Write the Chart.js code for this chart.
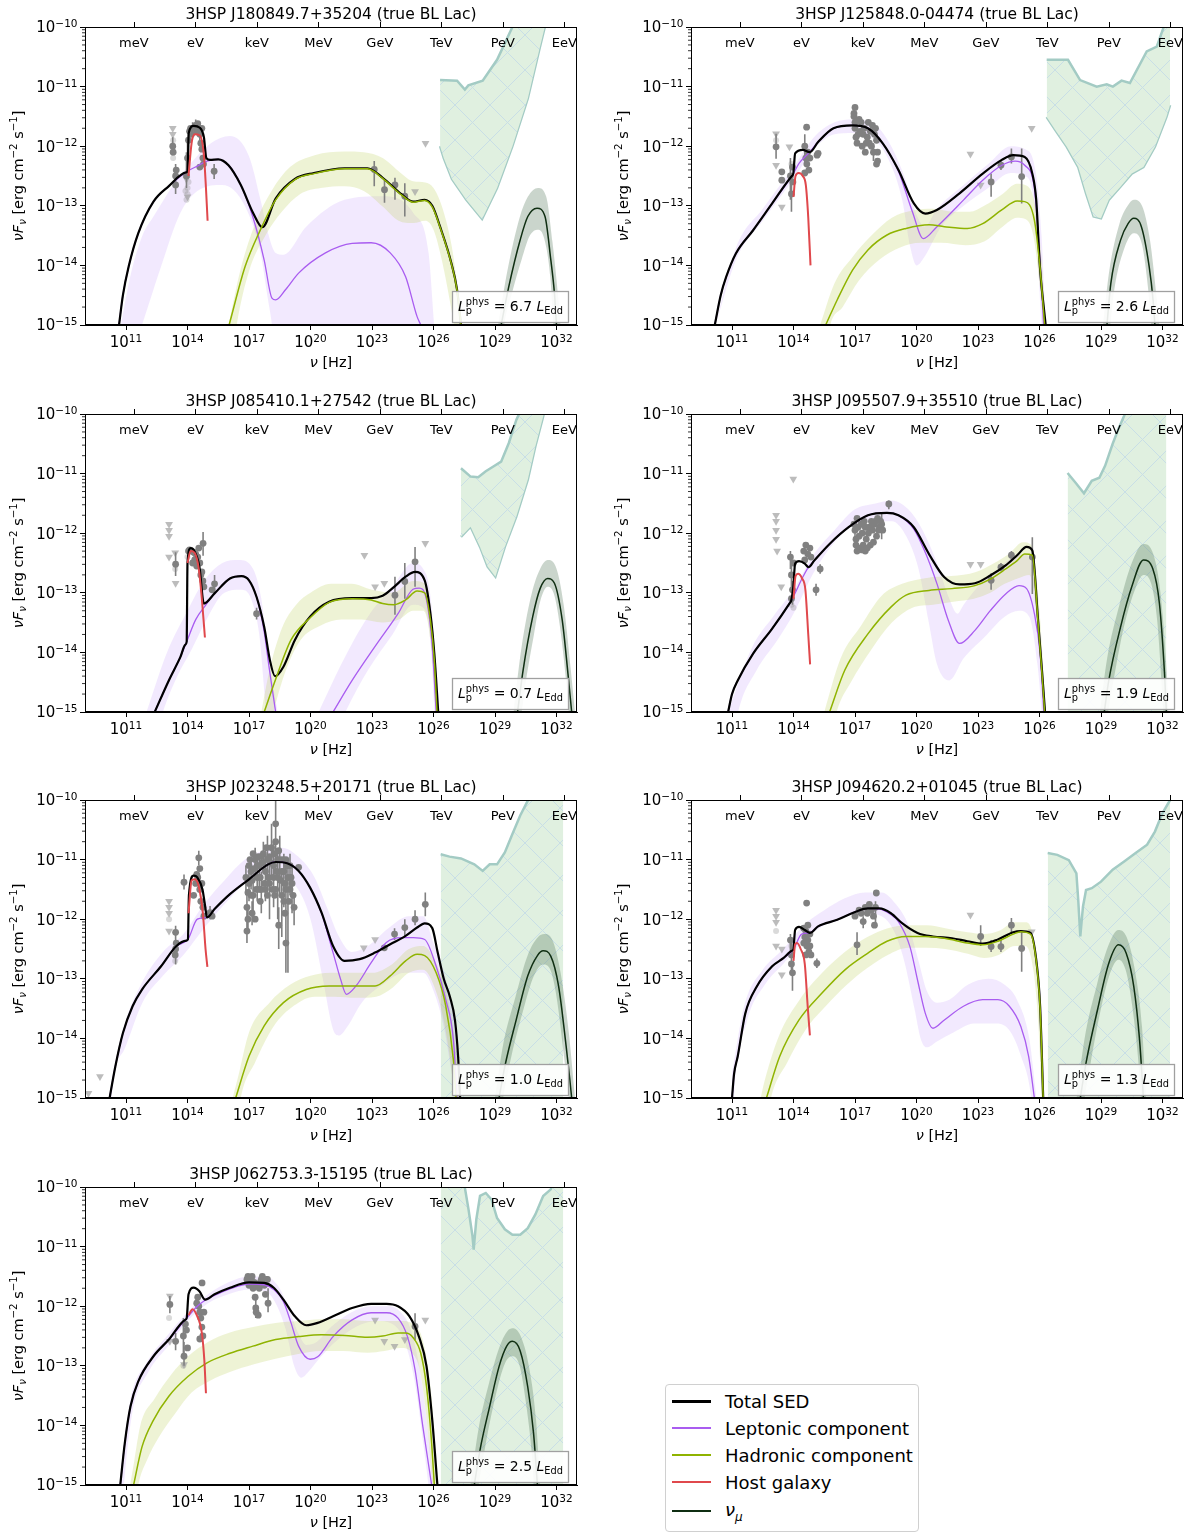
<!DOCTYPE html>
<html>
<head>
<meta charset="utf-8">
<script src="https://cdn.jsdelivr.net/npm/chart.js@4.4.1/dist/chart.umd.min.js"></script>
<style>
body { margin: 0; background: #fff; width: 1200px; height: 1534px; overflow: hidden; position: relative; font-family: "DejaVu Sans", sans-serif; }
canvas { position: absolute; }
.legend { position: absolute; left: 665px; top: 1384px; width: 252px; height: 146px; border: 1px solid #d0d0d0; border-radius: 4px; background: #fff; }
.legend .row { position: absolute; left: 0; height: 26px; display: flex; align-items: center; font-size: 18px; color: #000; white-space: nowrap; }
.legend .swatch { width: 39px; margin-left: 6px; margin-right: 14px; }
</style>
</head>
<body>
<div class="legend" id="legend"></div>
<script>
// all values are log10(nu/Hz), log10(nuFnu / erg cm-2 s-1)
const titles = [
    '3HSP J180849.7+35204 (true BL Lac)', '3HSP J125848.0-04474 (true BL Lac)',
    '3HSP J085410.1+27542 (true BL Lac)', '3HSP J095507.9+35510 (true BL Lac)',
    '3HSP J023248.5+20171 (true BL Lac)', '3HSP J094620.2+01045 (true BL Lac)',
    '3HSP J062753.3-15195 (true BL Lac)'
];
const lpValues = ['6.7', '2.6', '0.7', '1.9', '1.0', '1.3', '2.5'];
const energyLabels = ['meV', 'eV', 'keV', 'MeV', 'GeV', 'TeV', 'PeV', 'EeV'];
const energyExp = [11.383, 14.383, 17.383, 20.383, 23.383, 26.383, 29.383, 32.383];
const xTickExp = [11, 14, 17, 20, 23, 26, 29, 32];
const yTickExp = [-15, -14, -13, -12, -11, -10];
const legendLabels = ['Total SED', 'Leptonic component', 'Hadronic component', 'Host galaxy', '<i>ν</i><sub style="font-size:12px"><i>μ</i></sub>'];

// ---- panel 1
const tot1 = [[10.66,-15],[10.85,-14.5],[11.13,-14.02],[11.6,-13.46],[12.34,-12.93],[13.09,-12.67],[13.93,-12.44],[14.0,-12.42],[14.06,-11.78],[14.3,-11.66],[14.6,-11.69],[14.8,-11.85],[14.92,-12.2],[15.1,-12.23],[15.5,-12.22],[16.0,-12.32],[16.6,-12.65],[17.2,-13.12],[17.65,-13.36],[18.3,-12.88],[19.24,-12.55],[20.17,-12.45],[21.66,-12.37],[22.78,-12.37],[23.52,-12.53],[24.45,-12.81],[25.01,-12.93],[25.57,-12.9],[25.94,-13.0],[26.32,-13.35],[26.87,-13.96],[27.15,-14.41],[27.34,-15]];
const lep1 = [[10.66,-15],[10.85,-14.5],[11.13,-14.02],[11.6,-13.46],[12.34,-12.93],[13.09,-12.67],[14.0,-12.42],[14.5,-12.33],[14.95,-12.25],[15.5,-12.22],[16.0,-12.32],[16.6,-12.65],[17.2,-13.2],[17.74,-13.91],[18.12,-14.55],[18.3,-14.58],[18.8,-14.4],[19.42,-14.13],[20.73,-13.79],[22.03,-13.63],[22.96,-13.62],[23.89,-13.79],[24.64,-14.19],[25.2,-14.86],[25.38,-15]];
const lepUp1 = [[10.75,-15],[11.2,-14.2],[11.8,-13.5],[12.34,-13.18],[13.27,-12.67],[14.02,-12.34],[15.14,-11.95],[16.07,-11.83],[17.0,-12.17],[17.56,-12.9],[17.93,-13.46],[18.3,-13.79],[18.68,-13.82],[19.79,-13.35],[21.66,-12.9],[23.52,-12.84],[25.01,-13.12],[25.76,-13.79],[26.04,-15]];
const lepLo1 = [[10.75,-16],[11.78,-15],[12.71,-14.02],[13.65,-13.12],[14.58,-12.73],[15.7,-12.65],[16.81,-13.01],[17.56,-13.79],[17.93,-14.58],[18.12,-15],[18.4,-16],[26.04,-16]];
const had1 = [[16.03,-15],[16.81,-14.02],[17.56,-13.4],[18.3,-12.9],[19.24,-12.56],[20.17,-12.46],[21.66,-12.38],[22.78,-12.38],[23.52,-12.54],[24.45,-12.82],[25.01,-12.94],[25.57,-12.91],[25.94,-13.02],[26.32,-13.36],[26.87,-13.97],[27.15,-14.42],[27.34,-15]];
const hadUp1 = [[16.0,-15],[16.6,-14.05],[17.3,-13.3],[18.1,-12.75],[19.0,-12.35],[20.2,-12.15],[21.66,-12.09],[22.6,-12.1],[23.52,-12.2],[24.4,-12.45],[25.0,-12.59],[25.6,-12.61],[26.0,-12.7],[26.4,-13.0],[26.9,-13.7],[27.25,-14.58],[27.4,-15]];
const hadLo1 = [[16.0,-16],[16.4,-15],[17.0,-14.1],[17.8,-13.5],[18.6,-13.1],[19.5,-12.8],[20.5,-12.7],[21.66,-12.67],[22.6,-12.75],[23.52,-13.01],[24.3,-13.25],[25.0,-13.29],[25.6,-13.25],[26.0,-13.4],[26.4,-13.9],[26.8,-14.6],[27.0,-15],[27.4,-16]];
const host1 = [[14.05,-12.5],[14.2,-11.95],[14.35,-11.8],[14.6,-11.82],[14.8,-12.15],[14.9,-12.7],[14.98,-13.25]];
const nu1 = [[29.3,-15],[29.67,-14.36],[30.23,-13.57],[30.6,-13.18],[31.05,-13.04],[31.44,-13.18],[31.72,-13.9],[31.9,-14.47],[32.0,-15]];
const nuUp1 = [[29.15,-15],[29.6,-14.1],[30.2,-13.2],[30.6,-12.85],[31.1,-12.7],[31.5,-12.85],[31.8,-13.6],[32.1,-14.6],[32.2,-15]];
const nuLo1 = [[29.15,-16],[29.45,-15],[29.8,-14.5],[30.3,-13.9],[30.7,-13.5],[31.1,-13.4],[31.4,-13.55],[31.7,-14.2],[31.85,-15],[32.2,-16]];
const senUp1 = [[26.32,-10.89],[27.15,-10.9],[27.53,-11.05],[27.7,-10.98],[28.4,-10.9],[29.1,-10.55],[29.85,-10.0],[30.6,-9.5],[31.8,-9.0]];
const senLo1 = [[26.32,-12.0],[26.5,-12.2],[26.9,-12.55],[27.6,-12.9],[28.37,-13.22],[29.1,-12.7],[29.85,-12.0],[30.6,-11.2],[31.16,-10.38],[31.5,-9.9],[31.8,-9.5]];
const pts1 = [[13.28,-12.0,-12.15,-11.85],[13.3,-12.1],[13.42,-12.5,-12.72,-12.3],[13.42,-12.65,-12.8,-12.5],[13.45,-12.4],[13.95,-12.5,-12.7,-12.1],[14.0,-12.2,-12.5,-11.9],[14.05,-11.9,-12.2,-11.7],[14.1,-11.75],[14.15,-11.7],[14.2,-11.8],[14.25,-11.7,-11.85,-11.6],[14.4,-11.65,-11.75,-11.55],[14.5,-11.62],[14.55,-11.7],[14.6,-11.8,-11.9,-11.7],[14.65,-11.95],[14.7,-12.05],[14.75,-12.2],[14.78,-12.3],[14.6,-12.35],[14.45,-11.75],[14.7,-11.7],[15.3,-12.42,-12.55,-12.3],[23.11,-12.39,-12.67,-12.25],[23.61,-12.73,-12.95,-12.56],[24.12,-12.65,-12.9,-12.53],[24.6,-12.84,-13.18,-12.62]];
const faint1 = [[14.0,-12.7],[14.0,-12.8],[13.95,-12.9],[14.05,-12.6],[13.9,-12.75],[13.3,-11.9],[13.3,-12.2]];
const ul1 = [[13.28,-11.7],[13.28,-11.8],[13.95,-12.55],[14.0,-12.85],[25.61,-11.95],[25.1,-12.76]];

// ---- panel 2
const tot2 = [[10.16,-15],[10.45,-14.5],[10.72,-14.19],[11.19,-13.8],[12.03,-13.41],[12.96,-12.96],[13.92,-12.5],[13.99,-12.46],[14.08,-12.12],[14.45,-12.06],[14.79,-12.1],[15.2,-11.93],[15.95,-11.7],[16.88,-11.65],[17.63,-11.7],[18.37,-11.96],[19.12,-12.4],[19.87,-12.96],[20.43,-13.13],[20.99,-13.07],[22.1,-12.79],[23.23,-12.46],[24.16,-12.23],[24.72,-12.15],[25.28,-12.18],[25.65,-12.46],[25.84,-12.9],[26.02,-14.02],[26.3,-15]];
const lep2 = [[10.16,-15],[10.45,-14.5],[10.72,-14.19],[11.19,-13.8],[12.03,-13.41],[12.96,-12.96],[13.99,-12.46],[14.27,-12.29],[14.79,-12.1],[15.2,-11.93],[15.95,-11.7],[16.88,-11.65],[17.63,-11.7],[18.37,-11.96],[19.12,-12.42],[19.8,-13.1],[20.33,-13.55],[21.0,-13.35],[22.3,-12.9],[23.23,-12.57],[24.16,-12.32],[24.81,-12.25],[25.28,-12.32],[25.75,-12.7],[26.0,-13.8],[26.2,-15]];
const lepUp2 = [[10.2,-15],[11.2,-13.7],[12.5,-13.05],[14.0,-12.35],[15.0,-11.85],[16.0,-11.6],[16.9,-11.55],[17.8,-11.6],[18.6,-11.9],[19.4,-12.5],[20.0,-13.15],[20.4,-13.35],[21.0,-13.05],[22.3,-12.65],[23.5,-12.3],[24.6,-12.0],[25.3,-12.05],[25.8,-12.4],[26.1,-13.5],[26.3,-15]];
const lepLo2 = [[10.2,-15],[11.2,-13.9],[12.5,-13.25],[14.0,-12.55],[15.0,-12.05],[16.0,-11.8],[16.9,-11.78],[17.8,-11.85],[18.6,-12.2],[19.3,-12.9],[19.7,-13.7],[20.0,-14.0],[20.4,-13.85],[21.2,-13.35],[22.3,-13.0],[23.5,-12.7],[24.6,-12.45],[25.3,-12.5],[25.75,-13.0],[26.1,-15],[26.3,-16]];
const had2 = [[15.57,-15],[16.13,-14.58],[16.88,-14.08],[17.63,-13.74],[18.56,-13.49],[19.49,-13.38],[20.61,-13.32],[21.36,-13.35],[22.48,-13.38],[23.23,-13.3],[24.16,-13.07],[24.91,-12.92],[25.28,-12.93],[25.75,-13.24],[26.02,-14.02],[26.25,-15]];
const hadUp2 = [[15.3,-15],[16.0,-14.3],[16.9,-13.85],[17.8,-13.5],[18.8,-13.2],[19.8,-13.08],[20.8,-13.05],[21.8,-13.1],[22.6,-13.1],[23.3,-13.0],[24.2,-12.8],[24.9,-12.63],[25.3,-12.65],[25.8,-13.0],[26.1,-13.9],[26.3,-15]];
const hadLo2 = [[15.3,-16],[15.8,-15],[16.4,-14.7],[17.2,-14.25],[18.2,-13.9],[19.2,-13.7],[20.2,-13.62],[21.2,-13.62],[22.4,-13.66],[23.3,-13.6],[24.2,-13.35],[24.9,-13.2],[25.3,-13.22],[25.7,-13.5],[26.0,-14.3],[26.2,-15],[26.3,-16]];
const host2 = [[14.0,-12.85],[14.1,-12.5],[14.25,-12.45],[14.45,-12.5],[14.6,-12.65],[14.72,-13.2],[14.83,-14.0]];
const nu2 = [[29.29,-15],[29.48,-14.3],[29.95,-13.58],[30.32,-13.3],[30.6,-13.21],[30.97,-13.35],[31.35,-14.02],[31.54,-14.58],[31.63,-15]];
const nuUp2 = [[29.1,-15],[29.4,-14.1],[29.9,-13.3],[30.3,-13.0],[30.6,-12.9],[31.0,-13.0],[31.4,-13.6],[31.7,-14.5],[31.85,-15]];
const nuLo2 = [[29.1,-16],[29.45,-15],[29.65,-14.4],[30.1,-13.75],[30.6,-13.46],[31.0,-13.65],[31.3,-14.4],[31.45,-15],[31.85,-16]];
const senUp2 = [[26.35,-10.55],[27.39,-10.55],[27.98,-10.89],[28.79,-11.0],[29.28,-10.96],[29.58,-11.0],[30.0,-10.9],[30.41,-10.94],[31.23,-10.41],[31.72,-10.33],[32.04,-10.02],[32.37,-9.6]];
const senLo2 = [[26.35,-11.51],[26.77,-11.73],[27.33,-12.01],[27.89,-12.35],[28.27,-12.79],[28.64,-13.18],[29.0,-13.21],[29.38,-12.9],[29.95,-12.68],[30.5,-12.46],[31.07,-12.35],[31.63,-12.01],[32.19,-11.51],[32.37,-11.31]];
const pts2 = [[13.15,-12.01,-12.21,-11.79],[13.43,-12.43],[13.43,-12.57],[13.85,-12.5,-12.9,-12.2],[13.9,-12.8,-13.1,-12.5],[13.95,-12.35],[13.97,-12.6],[14.64,-11.68],[14.55,-12.0,-12.3,-11.8],[14.6,-12.2],[14.65,-12.3],[14.7,-12.1],[14.75,-12.4],[14.55,-12.45],[14.8,-12.2],[15.2,-12.12],[15.15,-12.15],[16.95,-11.5,-11.65,-11.4],[17.0,-11.7],[17.05,-11.85],[17.1,-11.95],[17.2,-11.55],[17.3,-11.6],[17.4,-11.8],[17.45,-11.7],[17.55,-11.95],[17.65,-11.6],[17.75,-11.75],[17.8,-12.0],[17.9,-12.1,-12.25,-11.95],[18.0,-11.7],[18.05,-11.9],[18.1,-12.25],[17.25,-11.75],[17.0,-11.6],[16.95,-11.45],[17.0,-11.35],[17.15,-11.8],[17.35,-12.0],[17.5,-12.1],[17.6,-11.85],[17.7,-11.95],[17.85,-11.65],[17.95,-11.8],[18.1,-12.1],[18.05,-12.3],[23.64,-12.6,-12.85,-12.46],[24.12,-12.32,-12.4,-12.24],[24.63,-12.18,-12.29,-12.04],[25.13,-12.51,-12.96,-12.04]];
const faint2 = [[13.15,-11.9],[13.9,-12.3]];
const ul2 = [[13.15,-11.79],[13.8,-12.01],[13.15,-12.32],[13.43,-13.02],[22.63,-12.13],[23.13,-12.65],[25.62,-11.7]];

// ---- panel 3
const tot3 = [[12.4,-15],[13.09,-14.47],[13.65,-14.08],[13.9,-13.87],[13.96,-13.82],[14.0,-12.5],[14.15,-12.25],[14.3,-12.28],[14.58,-12.56],[14.8,-13.18],[15.32,-13.01],[16.07,-12.76],[16.63,-12.72],[17.0,-12.79],[17.37,-13.07],[17.74,-13.57],[18.02,-14.13],[18.27,-14.4],[18.68,-14.24],[19.24,-13.79],[19.98,-13.4],[20.91,-13.15],[22.03,-13.09],[22.96,-13.09],[23.52,-13.05],[24.08,-12.9],[24.64,-12.73],[25.1,-12.65],[25.57,-12.79],[25.85,-13.35],[26.04,-14.02],[26.23,-15]];
const lep3 = [[12.4,-15],[13.09,-14.47],[13.65,-14.08],[13.96,-13.82],[14.4,-13.45],[14.86,-13.22],[15.32,-13.01],[16.07,-12.76],[16.63,-12.72],[17.0,-12.79],[17.37,-13.07],[17.74,-13.65],[18.0,-14.3],[18.3,-15],null,[21.1,-15],[22.03,-14.47],[23.15,-13.9],[24.27,-13.35],[25.0,-12.94],[25.3,-12.92],[25.66,-13.12],[25.94,-13.9],[26.13,-15]];
const lepUp3 = [[12.0,-15],[13.0,-14.0],[14.0,-13.3],[14.8,-12.8],[15.7,-12.5],[16.5,-12.45],[17.2,-12.6],[17.6,-13.1],[18.0,-14.2],[18.4,-15]];
const lepLo3 = [[12.0,-16],[12.8,-15],[13.5,-14.4],[14.2,-13.95],[15.0,-13.4],[15.8,-13.0],[16.6,-12.95],[17.1,-13.1],[17.5,-13.7],[17.85,-15],[18.4,-16]];
const lepUp3b = [[20.4,-15],[21.5,-14.2],[22.8,-13.4],[24.0,-12.9],[25.0,-12.5],[25.5,-12.6],[25.9,-13.2],[26.2,-15]];
const lepLo3b = [[20.4,-16],[21.7,-15],[22.8,-14.3],[24.0,-13.7],[25.0,-13.2],[25.5,-13.25],[25.85,-13.8],[26.05,-15],[26.2,-16]];
const had3 = [[17.74,-15],[18.3,-14.45],[19.05,-13.79],[19.98,-13.42],[20.91,-13.16],[22.03,-13.1],[22.96,-13.12],[23.52,-13.18],[24.08,-13.2],[24.64,-13.12],[25.2,-12.97],[25.57,-13.0],[25.85,-13.46],[26.04,-14.13],[26.17,-15]];
const hadUp3 = [[17.6,-15],[18.0,-14.3],[18.6,-13.6],[19.3,-13.2],[20.0,-13.0],[21.0,-12.85],[22.0,-12.85],[23.0,-12.95],[24.0,-13.0],[25.0,-12.8],[25.6,-12.85],[25.95,-13.5],[26.2,-15]];
const hadLo3 = [[17.6,-16],[18.2,-15],[18.8,-14.3],[19.5,-13.8],[20.5,-13.55],[21.5,-13.45],[22.5,-13.45],[23.5,-13.5],[24.3,-13.45],[25.0,-13.3],[25.5,-13.3],[25.85,-13.8],[26.1,-15],[26.2,-16]];
const host3 = [[14.0,-12.5],[14.15,-12.3],[14.35,-12.33],[14.55,-12.6],[14.7,-13.1],[14.85,-13.75]];
const nu3 = [[30.1,-15],[30.37,-14.3],[30.84,-13.4],[31.2,-12.93],[31.57,-12.76],[31.9,-12.84],[32.28,-13.46],[32.56,-14.36],[32.74,-15]];
const nuUp3 = [[29.9,-15],[30.3,-13.9],[30.8,-13.0],[31.2,-12.6],[31.57,-12.45],[31.95,-12.55],[32.35,-13.2],[32.7,-14.3],[32.9,-15]];
const nuLo3 = [[29.9,-16],[30.3,-15],[30.5,-14.5],[30.9,-13.7],[31.2,-13.15],[31.57,-12.9],[31.9,-13.05],[32.2,-13.65],[32.5,-14.6],[32.6,-15],[32.9,-16]];
const senUp3 = [[27.34,-10.91],[27.81,-11.05],[28.18,-11.06],[28.55,-10.96],[28.92,-10.88],[29.3,-10.8],[29.67,-10.49],[30.04,-10.1],[30.3,-9.9],[31.5,-9.3]];
const senLo3 = [[27.34,-12.06],[27.81,-11.89],[28.27,-12.23],[28.64,-12.56],[29.02,-12.73],[29.48,-12.23],[30.04,-11.72],[30.6,-11.1],[30.97,-10.54],[31.35,-10.04],[31.5,-9.8]];
const pts3 = [[13.42,-12.52,-12.72,-12.32],[14.05,-12.3],[14.1,-12.28],[14.2,-12.3],[14.3,-12.32],[14.4,-12.35],[14.5,-12.4],[14.6,-12.5],[14.7,-12.65],[14.75,-12.8],[14.8,-12.9],[14.55,-12.25],[14.45,-12.55],[14.65,-12.7],[14.35,-12.45],[14.25,-12.5],[14.76,-12.17,-12.38,-11.98],[15.32,-12.85,-13.0,-12.7],[15.2,-12.95],[17.37,-13.35,-13.45,-13.25],[24.12,-13.04,-13.37,-12.73],[24.6,-12.81,-13.1,-12.5],[25.1,-12.48,-12.9,-12.23]];
const faint3 = [[13.4,-12.6],[14.0,-12.4]];
const ul3 = [[13.1,-11.85],[13.1,-11.95],[13.1,-12.05],[13.1,-12.4],[13.42,-12.84],[13.4,-12.33],[22.63,-12.37],[23.15,-12.9],[23.6,-12.84],[25.6,-12.17]];

// ---- panel 4
const tot4 = [[10.81,-15],[11.0,-14.7],[11.28,-14.47],[12.03,-14.02],[12.96,-13.6],[13.8,-13.18],[13.89,-13.13],[13.99,-12.9],[14.08,-12.51],[14.27,-12.47],[14.55,-12.51],[14.73,-12.57],[15.01,-12.46],[15.76,-12.18],[16.69,-11.9],[17.63,-11.7],[18.56,-11.66],[19.12,-11.7],[19.87,-11.9],[20.61,-12.35],[21.36,-12.74],[22.1,-12.86],[22.85,-12.84],[23.6,-12.71],[24.35,-12.54],[24.91,-12.37],[25.37,-12.23],[25.65,-12.29],[25.93,-13.46],[26.12,-14.3],[26.27,-15]];
const lep4 = [[10.81,-15],[11.0,-14.7],[11.28,-14.47],[12.03,-14.02],[12.96,-13.6],[13.89,-13.13],[14.45,-12.74],[14.73,-12.57],[15.01,-12.46],[15.76,-12.18],[16.69,-11.9],[17.63,-11.7],[18.56,-11.66],[19.12,-11.7],[19.87,-11.93],[20.4,-12.3],[21.0,-12.85],[21.55,-13.46],[22.1,-13.85],[22.85,-13.63],[23.6,-13.3],[24.35,-13.02],[25.0,-12.88],[25.37,-12.93],[25.75,-13.35],[26.03,-14.02],[26.21,-15]];
const lepUp4 = [[10.8,-15],[12.0,-13.9],[13.0,-13.4],[14.0,-12.95],[15.0,-12.35],[16.0,-11.95],[17.0,-11.6],[18.0,-11.5],[18.8,-11.45],[19.6,-11.6],[20.3,-11.95],[21.0,-12.5],[21.6,-13.1],[22.0,-13.35],[22.3,-13.2],[23.0,-12.9],[23.8,-12.65],[24.5,-12.45],[25.2,-12.35],[25.6,-12.5],[26.0,-13.5],[26.25,-15]];
const lepLo4 = [[10.8,-16],[11.3,-15],[12.2,-14.3],[13.2,-13.8],[14.0,-13.35],[15.0,-12.65],[16.0,-12.15],[17.0,-11.85],[18.0,-11.8],[18.8,-11.8],[19.5,-12.05],[20.1,-12.6],[20.6,-13.5],[21.0,-14.2],[21.6,-14.47],[22.3,-14.1],[23.3,-13.75],[24.3,-13.4],[25.0,-13.3],[25.5,-13.4],[25.9,-14.2],[26.1,-15],[26.25,-16]];
const had4 = [[15.76,-15],[16.5,-14.3],[17.63,-13.69],[18.75,-13.24],[19.49,-13.04],[20.61,-12.96],[21.73,-12.93],[22.85,-12.88],[23.6,-12.77],[24.35,-12.6],[24.91,-12.46],[25.28,-12.35],[25.65,-12.37],[25.93,-13.5],[26.12,-14.35],[26.25,-15]];
const hadUp4 = [[15.5,-15],[16.3,-14.1],[17.3,-13.55],[18.3,-13.05],[19.3,-12.85],[20.5,-12.75],[21.7,-12.72],[22.9,-12.65],[23.8,-12.5],[24.5,-12.35],[25.2,-12.15],[25.6,-12.2],[26.0,-13.3],[26.3,-15]];
const hadLo4 = [[15.5,-16],[16.1,-15],[16.8,-14.5],[17.8,-13.95],[18.8,-13.5],[19.8,-13.25],[20.8,-13.2],[21.8,-13.15],[22.8,-13.1],[23.6,-13.0],[24.3,-12.85],[25.0,-12.75],[25.5,-12.7],[25.9,-13.5],[26.2,-15],[26.3,-16]];
const host4 = [[14.0,-13.1],[14.1,-12.72],[14.22,-12.68],[14.42,-12.76],[14.58,-12.95],[14.72,-13.7],[14.81,-14.2]];
const nu4 = [[29.16,-15],[29.38,-14.47],[29.95,-13.58],[30.5,-12.9],[31.07,-12.45],[31.53,-12.6],[31.85,-13.18],[32.1,-14.36],[32.19,-15]];
const nuUp4 = [[28.95,-15],[29.3,-14.1],[29.9,-13.2],[30.5,-12.5],[31.07,-12.18],[31.55,-12.35],[31.9,-13.0],[32.2,-14.3],[32.3,-15]];
const nuLo4 = [[28.95,-16],[29.35,-15],[29.7,-14.3],[30.1,-13.6],[30.6,-13.0],[31.07,-12.7],[31.45,-12.85],[31.75,-13.5],[32.05,-15],[32.3,-16]];
const senUp4 = [[27.37,-10.99],[27.8,-11.17],[28.17,-11.33],[28.55,-11.12],[28.92,-11.07],[29.2,-10.87],[29.57,-10.5],[29.85,-10.25],[30.13,-10.03],[30.5,-9.7],[32.19,-9.5]];
const senLo4 = [[27.37,-16],[32.19,-16]];
const pts4 = [[13.85,-12.4,-12.6,-12.3],[13.9,-12.7,-13.0,-12.4],[13.95,-12.95,-13.2,-12.8],[14.0,-12.5],[13.9,-13.1],[14.5,-12.3],[14.6,-12.2],[14.7,-12.35],[14.8,-12.25],[14.55,-12.45],[14.85,-12.4],[15.3,-12.6,-12.68,-12.52],[15.1,-12.95,-13.05,-12.85],[17.0,-11.95,-12.1,-11.8],[17.1,-11.75],[17.2,-12.05],[17.3,-11.85],[17.4,-12.2],[17.5,-11.9],[17.6,-12.25],[17.7,-11.9],[17.8,-11.8],[17.9,-12.15],[18.0,-11.8],[18.1,-11.75],[18.2,-11.9],[18.3,-11.85,-12.1,-11.65],[18.65,-11.51,-11.6,-11.45],[17.05,-12.2],[17.35,-12.28],[17.55,-12.1],[16.95,-11.85],[17.05,-12.1],[17.15,-11.9],[17.25,-12.25],[17.35,-12.0],[17.45,-11.8],[17.65,-12.0],[17.75,-12.2],[17.85,-11.95],[17.95,-11.85],[18.05,-12.05],[18.15,-11.95],[18.25,-11.8],[18.35,-11.95],[17.1,-12.3],[17.5,-12.3],[23.64,-12.79,-12.95,-12.67],[24.12,-12.57,-12.64,-12.5],[24.63,-12.37,-12.45,-12.3],[25.65,-12.4,-13.02,-12.07]];
const faint4 = [[13.9,-13.2],[14.0,-13.25]];
const ul4 = [[13.15,-11.7],[13.15,-11.8],[13.15,-11.95],[13.15,-12.1],[13.2,-12.3],[13.4,-12.9],[13.99,-11.09],[22.63,-12.52],[23.13,-12.52]];

// ---- panel 5
const tot5 = [[10.2,-15],[10.48,-14.47],[10.85,-13.91],[11.32,-13.46],[11.78,-13.18],[12.71,-12.79],[13.46,-12.45],[13.95,-12.36],[14.02,-12.34],[14.07,-11.6],[14.3,-11.27],[14.48,-11.3],[14.73,-11.5],[14.86,-11.78],[14.95,-11.97],[15.32,-11.83],[16.07,-11.58],[17.0,-11.33],[17.93,-11.08],[18.3,-11.04],[18.86,-11.06],[19.42,-11.19],[19.98,-11.47],[20.54,-11.89],[21.1,-12.45],[21.66,-12.7],[22.4,-12.67],[23.15,-12.56],[23.89,-12.42],[24.64,-12.28],[25.2,-12.14],[25.57,-12.07],[25.94,-12.15],[26.2,-12.55],[26.5,-13.0],[26.8,-13.3],[27.05,-13.7],[27.2,-14.3],[27.3,-15]];
const lep5 = [[10.2,-15],[10.48,-14.47],[10.85,-13.91],[11.32,-13.46],[11.78,-13.18],[12.71,-12.79],[13.46,-12.45],[14.02,-12.34],[14.48,-12.0],[14.95,-11.97],[15.32,-11.83],[16.07,-11.58],[17.0,-11.33],[17.93,-11.08],[18.3,-11.04],[18.86,-11.06],[19.42,-11.19],[19.98,-11.47],[20.54,-11.9],[21.1,-12.56],[21.47,-13.01],[21.75,-13.26],[22.22,-13.12],[22.96,-12.73],[23.7,-12.39],[24.45,-12.31],[25.01,-12.31],[25.57,-12.34],[26.13,-12.79],[26.6,-13.35],[26.97,-14.02],[27.15,-15]];
const lepUp5 = [[10.2,-14.9],[10.9,-13.8],[11.8,-13.05],[12.8,-12.55],[13.8,-12.25],[14.8,-11.75],[15.8,-11.35],[16.8,-11.0],[17.7,-10.85],[18.6,-10.8],[19.4,-10.95],[20.2,-11.3],[20.8,-11.8],[21.4,-12.3],[22.0,-12.55],[22.8,-12.45],[23.8,-12.15],[24.8,-11.95],[25.5,-11.95],[26.0,-12.4],[26.6,-13.0],[27.1,-14.0],[27.3,-15]];
const lepLo5 = [[10.2,-16],[10.3,-15],[10.9,-14.2],[11.8,-13.4],[12.8,-12.95],[13.8,-12.6],[14.8,-12.15],[15.8,-11.75],[16.8,-11.4],[17.7,-11.25],[18.6,-11.3],[19.4,-11.5],[20.0,-12.0],[20.6,-13.0],[21.1,-13.85],[21.4,-13.95],[21.8,-13.8],[22.5,-13.4],[23.5,-13.1],[24.6,-12.9],[25.5,-12.9],[26.0,-13.2],[26.5,-13.8],[26.9,-14.6],[27.1,-15],[27.3,-16]];
const had5 = [[16.35,-15],[17.0,-14.3],[17.74,-13.79],[18.68,-13.4],[19.79,-13.18],[20.91,-13.12],[22.03,-13.12],[23.15,-13.12],[23.89,-12.95],[24.64,-12.7],[25.2,-12.59],[25.57,-12.61],[26.13,-12.9],[26.6,-13.46],[26.97,-14.36],[27.1,-15]];
const hadUp5 = [[16.2,-15],[16.5,-14.6],[17.0,-13.9],[18.0,-13.4],[19.0,-13.1],[20.0,-12.95],[21.0,-12.9],[22.0,-12.9],[23.0,-12.9],[24.0,-12.75],[24.8,-12.5],[25.5,-12.45],[26.0,-12.65],[26.6,-13.2],[27.1,-14.2],[27.3,-15]];
const hadLo5 = [[16.2,-16],[16.6,-15],[17.3,-14.4],[18.2,-13.8],[19.2,-13.45],[20.2,-13.3],[21.2,-13.3],[22.2,-13.32],[23.2,-13.3],[24.0,-13.15],[24.8,-12.9],[25.5,-12.85],[26.0,-13.1],[26.5,-13.7],[26.9,-14.6],[27.0,-15],[27.3,-16]];
const host5 = [[14.05,-11.9],[14.2,-11.35],[14.35,-11.33],[14.55,-11.45],[14.75,-11.9],[14.88,-12.5],[14.97,-12.8]];
const nu5 = [[29.2,-15],[29.48,-14.47],[30.04,-13.68],[30.6,-12.95],[31.07,-12.61],[31.35,-12.53],[31.72,-12.62],[32.1,-13.12],[32.47,-14.13],[32.65,-14.69],[32.74,-15]];
const nuUp5 = [[29.0,-15],[29.4,-14.1],[30.0,-13.3],[30.6,-12.6],[31.1,-12.3],[31.4,-12.25],[31.8,-12.35],[32.2,-12.9],[32.6,-13.9],[32.9,-15]];
const nuLo5 = [[29.0,-16],[29.4,-15],[29.8,-14.3],[30.4,-13.5],[30.9,-12.95],[31.35,-12.76],[31.7,-12.85],[32.0,-13.3],[32.4,-14.4],[32.6,-15],[32.9,-16]];
const senUp5 = [[26.35,-10.91],[26.78,-10.95],[27.34,-10.98],[27.99,-11.08],[28.4,-11.19],[28.74,-11.08],[29.1,-11.08],[29.48,-10.88],[29.85,-10.57],[30.23,-10.26],[30.6,-10.01],[31.0,-9.7],[32.33,-9.5]];
const senLo5 = [[26.35,-16],[32.33,-16]];
const pts5 = [[13.42,-12.22,-12.76,-12.11],[13.42,-12.5],[13.4,-12.6],[13.45,-12.4],[13.83,-11.38,-11.5,-11.25],[14.3,-11.6],[14.4,-11.4],[14.5,-11.3],[14.55,-10.97,-11.1,-10.85],[14.6,-11.5],[14.65,-11.7],[14.7,-11.4],[14.75,-11.8],[14.8,-11.95],[14.45,-11.25],[14.6,-11.15],[15.1,-11.89,-12.0,-11.78],[15.2,-11.95],[16.9,-11.8,-12.1,-11.5],[17.0,-11.4,-11.7,-11.2],[17.1,-11.2,-11.5,-11.0],[17.2,-11.6,-12.0,-11.3],[17.3,-11.0,-11.3,-10.8],[17.4,-11.3,-11.7,-11.0],[17.5,-11.1,-11.5,-10.9],[17.6,-11.5,-11.9,-11.2],[17.7,-10.9,-11.2,-10.7],[17.8,-11.2,-11.7,-10.9],[17.9,-11.0,-11.5,-10.6],[18.0,-11.4,-12.0,-11.0],[18.1,-10.8,-11.3,-10.4],[18.2,-11.1,-11.8,-10.7],[18.3,-10.7,-11.2,-10.0],[18.4,-11.3,-12.0,-10.9],[18.5,-11.0,-11.6,-10.6],[18.6,-11.6,-12.3,-11.2],[18.7,-11.2,-11.8,-10.9],[18.8,-11.5,-12.2,-11.1],[18.9,-11.3,-12.9,-11.0],[19.0,-11.1,-11.6,-10.9],[19.1,-11.4,-11.9,-11.1],[16.95,-12.0,-12.2,-11.8],[17.15,-11.9,-12.1,-11.7],[17.55,-11.7],[18.25,-11.6],[18.75,-11.9],[19.42,-11.13],[16.85,-11.3,-11.6,-11.1],[16.95,-11.55],[17.05,-11.0],[17.15,-11.35],[17.25,-11.15],[17.35,-11.5],[17.45,-10.95],[17.55,-11.3],[17.65,-11.05],[17.75,-11.4],[17.85,-10.8],[17.95,-11.3],[18.05,-11.05],[18.15,-11.5],[18.25,-10.9],[18.35,-11.2],[18.45,-10.85],[18.55,-11.35],[18.65,-11.0],[18.75,-11.4],[18.85,-11.1],[18.95,-11.7],[19.05,-11.3],[19.15,-11.6],[16.9,-12.2,-12.4,-12.0],[17.3,-12.0],[18.45,-12.1,-12.5,-11.8],[18.8,-12.4,-12.9,-12.0],[19.2,-11.8,-12.1,-11.6],[18.3,-10.4,-10.6,-10.0],[17.0,-11.1],[17.2,-10.9],[17.4,-11.1],[17.6,-10.95],[17.8,-11.5],[18.0,-10.95],[18.2,-11.3],[18.4,-11.0],[18.6,-11.2],[18.8,-11.0],[19.0,-11.5],[17.1,-11.6],[17.5,-11.5],[17.9,-11.6],[18.3,-11.5],[18.7,-11.7],[23.6,-12.48],[24.1,-12.25,-12.35,-12.15],[24.6,-12.14,-12.3,-12.0],[25.1,-12.0,-12.1,-11.85],[25.6,-11.75,-11.95,-11.55]];
const faint5 = [[13.1,-12.0],[13.4,-12.7]];
const ul5 = [[13.1,-11.7],[13.1,-11.8],[13.1,-11.9],[13.1,-12.2],[9.73,-14.64],[9.17,-14.92],[22.6,-12.48],[23.15,-12.34]];

// ---- panel 6
const tot6 = [[11.0,-15],[11.1,-14.6],[11.28,-14.3],[11.65,-13.58],[12.21,-13.13],[12.96,-12.79],[13.52,-12.65],[13.92,-12.53],[13.99,-12.51],[14.08,-12.18],[14.27,-12.13],[14.55,-12.18],[14.79,-12.23],[15.2,-12.12],[16.13,-12.01],[17.07,-11.87],[17.63,-11.82],[18.19,-11.82],[18.75,-11.9],[19.31,-12.07],[20.05,-12.23],[20.8,-12.29],[21.73,-12.32],[22.48,-12.37],[23.23,-12.41],[23.97,-12.34],[24.72,-12.22],[25.09,-12.2],[25.56,-12.23],[25.84,-12.68],[26.03,-13.46],[26.18,-15]];
const lep6 = [[11.0,-15],[11.1,-14.6],[11.28,-14.3],[11.65,-13.58],[12.21,-13.13],[12.96,-12.79],[13.52,-12.65],[13.99,-12.51],[14.4,-12.25],[14.79,-12.23],[15.2,-12.12],[16.13,-12.01],[17.07,-11.87],[17.63,-11.82],[18.19,-11.83],[18.75,-11.92],[19.12,-12.04],[19.68,-12.46],[20.05,-13.02],[20.43,-13.58],[20.8,-13.83],[21.36,-13.69],[22.29,-13.46],[23.23,-13.35],[23.97,-13.35],[24.53,-13.46],[25.09,-13.8],[25.47,-14.3],[25.75,-15]];
const lepUp6 = [[11.0,-14.6],[11.6,-13.45],[12.5,-12.85],[13.5,-12.5],[14.5,-12.1],[15.5,-11.85],[16.5,-11.65],[17.5,-11.55],[18.3,-11.55],[19.0,-11.75],[19.6,-12.1],[20.1,-12.7],[20.5,-13.2],[21.0,-13.4],[21.6,-13.35],[22.5,-13.1],[23.5,-13.0],[24.3,-13.1],[24.9,-13.35],[25.5,-14.0],[25.85,-15]];
const lepLo6 = [[11.0,-16],[11.1,-15],[11.7,-13.75],[12.6,-13.1],[13.5,-12.75],[14.5,-12.35],[15.5,-12.1],[16.5,-11.95],[17.5,-11.9],[18.3,-11.95],[18.9,-12.2],[19.4,-12.7],[19.9,-13.5],[20.2,-14.0],[20.5,-14.15],[21.0,-14.05],[21.8,-13.9],[22.8,-13.75],[23.8,-13.75],[24.5,-13.85],[25.1,-14.3],[25.6,-15],[25.85,-16]];
const had6 = [[12.68,-15],[13.33,-14.3],[14.27,-13.69],[15.39,-13.24],[16.51,-12.85],[17.63,-12.57],[18.56,-12.37],[19.49,-12.29],[20.43,-12.29],[21.36,-12.32],[22.48,-12.4],[23.23,-12.43],[23.97,-12.37],[24.72,-12.25],[25.09,-12.21],[25.56,-12.25],[25.84,-12.7],[26.03,-13.5],[26.18,-15]];
const hadUp6 = [[12.4,-15],[12.6,-14.7],[13.3,-13.95],[14.3,-13.35],[15.4,-12.9],[16.5,-12.55],[17.6,-12.3],[18.6,-12.15],[19.6,-12.1],[20.5,-12.1],[21.4,-12.15],[22.5,-12.22],[23.3,-12.25],[24.0,-12.2],[24.8,-12.05],[25.3,-12.05],[25.7,-12.3],[26.0,-13.3],[26.2,-15]];
const hadLo6 = [[12.4,-16],[12.9,-15],[13.7,-14.4],[14.6,-13.85],[15.6,-13.45],[16.6,-13.1],[17.6,-12.82],[18.6,-12.6],[19.6,-12.48],[20.5,-12.48],[21.4,-12.5],[22.5,-12.58],[23.3,-12.65],[24.0,-12.6],[24.8,-12.45],[25.3,-12.45],[25.7,-12.85],[25.95,-13.8],[26.1,-15],[26.2,-16]];
const host6 = [[14.0,-12.7],[14.08,-12.42],[14.17,-12.4],[14.35,-12.5],[14.55,-12.75],[14.7,-13.5],[14.8,-13.95]];
const nu6 = [[27.99,-15],[28.27,-14.41],[28.83,-13.52],[29.38,-12.74],[29.85,-12.43],[30.23,-12.57],[30.6,-13.13],[30.88,-14.02],[31.07,-15]];
const nuUp6 = [[27.8,-15],[28.2,-14.0],[28.8,-13.1],[29.35,-12.45],[29.85,-12.18],[30.25,-12.3],[30.65,-12.85],[31.0,-13.8],[31.2,-15]];
const nuLo6 = [[27.8,-16],[28.2,-15],[28.5,-14.4],[29.0,-13.5],[29.45,-12.9],[29.85,-12.68],[30.2,-12.85],[30.5,-13.4],[30.8,-14.3],[30.95,-15],[31.2,-16]];
const senUp6 = [[26.4,-10.89],[26.87,-10.92],[27.43,-11.01],[27.8,-11.23],[27.89,-11.68],[27.99,-12.29],[28.12,-11.79],[28.27,-11.51],[28.55,-11.48],[29.0,-11.37],[29.57,-11.17],[30.13,-11.03],[30.69,-10.89],[31.25,-10.75],[31.63,-10.53],[32.0,-10.22],[32.37,-10.0]];
const senLo6 = [[26.4,-16],[32.37,-16]];
const pts6 = [[13.85,-12.35,-12.6,-12.25],[13.9,-12.6,-12.9,-12.4],[13.95,-12.9,-13.2,-12.7],[13.9,-12.75],[14.64,-11.73],[14.5,-12.15],[14.55,-12.3],[14.6,-12.2],[14.65,-12.45],[14.7,-12.35],[14.75,-12.55],[14.8,-12.25],[14.85,-12.6],[14.6,-12.6],[14.5,-12.4],[14.7,-12.1],[14.8,-12.45],[15.14,-12.74,-12.82,-12.66],[17.1,-12.43,-12.6,-12.22],[17.4,-12.04,-12.15,-11.95],[17.0,-11.95],[17.2,-11.85],[17.3,-11.9],[17.5,-11.8],[17.6,-11.9],[17.7,-11.75],[17.8,-11.85],[17.9,-11.95],[18.0,-11.8,-12.1,-11.7],[18.04,-11.56],[17.95,-12.1],[23.13,-12.29,-12.45,-12.1],[23.64,-12.46,-12.55,-12.35],[24.12,-12.46,-12.55,-12.35],[24.63,-12.1,-12.22,-11.98],[25.13,-12.49,-12.88,-12.22]];
const faint6 = [[13.15,-12.2],[13.9,-12.45]];
const ul6 = [[13.15,-11.85],[13.15,-11.95],[13.15,-12.05],[13.15,-12.45],[13.43,-12.5],[13.43,-12.93],[22.63,-11.93],[25.62,-12.21]];

// ---- panel 7
const tot7 = [[10.72,-15],[10.94,-14.3],[11.22,-13.68],[11.6,-13.26],[12.34,-12.84],[13.09,-12.56],[13.88,-12.23],[13.96,-12.2],[14.05,-11.8],[14.3,-11.69],[14.58,-11.75],[14.86,-11.89],[15.32,-11.8],[16.07,-11.69],[17.0,-11.6],[17.74,-11.61],[18.21,-11.69],[18.68,-11.89],[19.24,-12.17],[19.79,-12.32],[20.35,-12.28],[21.1,-12.17],[22.03,-12.03],[22.96,-11.96],[23.71,-11.96],[24.27,-12.0],[24.83,-12.17],[25.29,-12.51],[25.66,-13.01],[25.94,-13.91],[26.19,-15]];
const lep7 = [[10.72,-15],[10.94,-14.3],[11.22,-13.68],[11.6,-13.26],[12.34,-12.84],[13.09,-12.56],[13.96,-12.2],[14.48,-12.0],[14.86,-11.9],[15.32,-11.82],[16.07,-11.71],[17.0,-11.63],[17.74,-11.64],[18.21,-11.72],[18.68,-11.92],[19.05,-12.28],[19.42,-12.67],[19.98,-12.89],[20.35,-12.85],[21.1,-12.51],[22.03,-12.23],[22.96,-12.11],[23.71,-12.11],[24.27,-12.2],[24.73,-12.51],[25.1,-13.07],[25.48,-14.02],[25.91,-15]];
const lepUp7 = [[10.7,-15],[10.8,-14.7],[11.2,-13.6],[12.0,-12.95],[13.0,-12.5],[14.0,-12.1],[15.0,-11.8],[16.0,-11.6],[17.0,-11.5],[17.8,-11.5],[18.4,-11.65],[18.9,-12.0],[19.4,-12.45],[19.8,-12.65],[20.3,-12.6],[21.0,-12.35],[22.0,-12.1],[23.0,-12.0],[23.8,-12.0],[24.4,-12.1],[24.9,-12.4],[25.4,-13.2],[25.8,-14.3],[26.0,-15]];
const lepLo7 = [[10.7,-16],[10.9,-15],[11.3,-13.8],[12.1,-13.1],[13.1,-12.65],[14.0,-12.25],[15.0,-11.95],[16.0,-11.8],[17.0,-11.72],[17.8,-11.75],[18.3,-11.95],[18.8,-12.4],[19.2,-13.0],[19.55,-13.2],[19.9,-13.1],[20.5,-12.85],[21.2,-12.6],[22.2,-12.35],[23.2,-12.25],[24.0,-12.3],[24.6,-12.6],[25.1,-13.3],[25.5,-14.3],[25.75,-15],[26.0,-16]];
const had7 = [[11.37,-15],[11.78,-14.36],[12.34,-13.91],[13.09,-13.51],[14.02,-13.18],[14.95,-12.95],[16.07,-12.79],[17.19,-12.67],[18.3,-12.56],[19.42,-12.51],[20.54,-12.48],[21.66,-12.49],[22.78,-12.52],[23.52,-12.5],[24.27,-12.45],[24.64,-12.45],[25.01,-12.53],[25.38,-12.79],[25.66,-13.35],[25.91,-14.3],[26.04,-15]];
const hadUp7 = [[11.2,-15],[11.4,-14.6],[11.7,-14.0],[12.4,-13.55],[13.2,-13.15],[14.0,-12.85],[15.0,-12.6],[16.0,-12.45],[17.2,-12.35],[18.3,-12.28],[19.4,-12.25],[20.5,-12.22],[21.6,-12.22],[22.8,-12.25],[23.6,-12.25],[24.4,-12.25],[25.0,-12.3],[25.5,-12.6],[25.9,-13.5],[26.2,-15]];
const hadLo7 = [[11.2,-16],[11.6,-15],[12.0,-14.6],[12.6,-14.2],[13.4,-13.8],[14.2,-13.45],[15.1,-13.25],[16.1,-13.1],[17.2,-12.98],[18.3,-12.88],[19.4,-12.8],[20.5,-12.75],[21.6,-12.75],[22.8,-12.78],[23.6,-12.75],[24.4,-12.7],[25.0,-12.8],[25.35,-13.1],[25.7,-14.0],[25.95,-15],[26.2,-16]];
const host7 = [[14.05,-12.15],[14.25,-12.05],[14.45,-12.15],[14.7,-12.45],[14.82,-12.9],[14.9,-13.46]];
const nu7 = [[27.99,-15],[28.27,-14.41],[28.74,-13.68],[29.2,-13.01],[29.57,-12.67],[29.85,-12.59],[30.23,-12.75],[30.6,-13.36],[30.88,-14.13],[31.07,-15]];
const nuUp7 = [[27.8,-15],[28.2,-14.05],[28.7,-13.3],[29.2,-12.7],[29.6,-12.42],[29.85,-12.37],[30.25,-12.5],[30.65,-13.0],[31.0,-13.9],[31.2,-15]];
const nuLo7 = [[27.8,-16],[28.2,-15],[28.5,-14.4],[29.0,-13.55],[29.5,-12.95],[29.85,-12.84],[30.2,-13.0],[30.5,-13.6],[30.8,-14.5],[30.9,-15],[31.2,-16]];
const senUp7 = [[26.35,-9.5],[27.45,-9.6],[27.53,-10.01],[27.71,-10.38],[27.9,-10.82],[27.96,-11.05],[28.09,-10.54],[28.27,-10.15],[28.55,-10.1],[28.83,-10.21],[29.1,-10.52],[29.48,-10.71],[29.85,-10.8],[30.23,-10.8],[30.6,-10.69],[30.97,-10.46],[31.35,-10.15],[31.72,-10.04],[31.85,-9.9],[32.33,-9.5]];
const senLo7 = [[26.35,-16],[32.33,-16]];
const pts7 = [[13.14,-11.97,-12.12,-11.83],[13.42,-12.59,-12.74,-12.45],[13.8,-12.5,-12.8,-12.2],[13.83,-12.84,-13.0,-12.6],[13.9,-12.3],[13.95,-12.4],[14.0,-12.7],[14.45,-11.95],[14.5,-11.85],[14.55,-12.0],[14.6,-12.1],[14.65,-12.2],[14.7,-12.35],[14.75,-12.5],[14.8,-12.1],[14.71,-11.61],[14.6,-12.55],[16.9,-11.55],[17.0,-11.65],[17.1,-11.6],[17.2,-11.7],[17.33,-12.03,-12.2,-11.85],[17.5,-11.7],[17.6,-11.55],[17.7,-11.6],[17.8,-11.8],[17.93,-11.95,-12.1,-11.7],[17.85,-11.55],[16.95,-11.5],[17.05,-11.55],[17.15,-11.5],[17.25,-11.6],[17.4,-11.65],[17.55,-11.6],[17.65,-11.5],[17.75,-11.65],[17.9,-11.55],[17.35,-12.1],[17.45,-12.15],[17.3,-11.85],[25.1,-12.34,-12.57,-12.12]];
const faint7 = [[13.1,-12.2],[13.8,-13.0]];
const ul7 = [[13.14,-11.83],[13.14,-12.59],[13.83,-12.98],[23.15,-12.23],[23.6,-12.59],[24.1,-12.67],[24.6,-12.56],[25.6,-12.23]];

const panels = [
    { tot: tot1, lep: lep1, lepBands: [[lepUp1, lepLo1]], had: had1, hadUp: hadUp1, hadLo: hadLo1, host: host1, nu: nu1, nuUp: nuUp1, nuLo: nuLo1, senUp: senUp1, senLo: senLo1, pts: pts1, faint: faint1, ul: ul1 },
    { tot: tot2, lep: lep2, lepBands: [[lepUp2, lepLo2]], had: had2, hadUp: hadUp2, hadLo: hadLo2, host: host2, nu: nu2, nuUp: nuUp2, nuLo: nuLo2, senUp: senUp2, senLo: senLo2, pts: pts2, faint: faint2, ul: ul2 },
    { tot: tot3, lep: lep3, lepBands: [[lepUp3, lepLo3], [lepUp3b, lepLo3b]], had: had3, hadUp: hadUp3, hadLo: hadLo3, host: host3, nu: nu3, nuUp: nuUp3, nuLo: nuLo3, senUp: senUp3, senLo: senLo3, pts: pts3, faint: faint3, ul: ul3 },
    { tot: tot4, lep: lep4, lepBands: [[lepUp4, lepLo4]], had: had4, hadUp: hadUp4, hadLo: hadLo4, host: host4, nu: nu4, nuUp: nuUp4, nuLo: nuLo4, senUp: senUp4, senLo: senLo4, pts: pts4, faint: faint4, ul: ul4 },
    { tot: tot5, lep: lep5, lepBands: [[lepUp5, lepLo5]], had: had5, hadUp: hadUp5, hadLo: hadLo5, host: host5, nu: nu5, nuUp: nuUp5, nuLo: nuLo5, senUp: senUp5, senLo: senLo5, pts: pts5, faint: faint5, ul: ul5 },
    { tot: tot6, lep: lep6, lepBands: [[lepUp6, lepLo6]], had: had6, hadUp: hadUp6, hadLo: hadLo6, host: host6, nu: nu6, nuUp: nuUp6, nuLo: nuLo6, senUp: senUp6, senLo: senLo6, pts: pts6, faint: faint6, ul: ul6 },
    { tot: tot7, lep: lep7, lepBands: [[lepUp7, lepLo7]], had: had7, hadUp: hadUp7, hadLo: hadLo7, host: host7, nu: nu7, nuUp: nuUp7, nuLo: nuLo7, senUp: senUp7, senLo: senLo7, pts: pts7, faint: faint7, ul: ul7 }
];

// layout of the figure (canvas positions, not data)
const cols = [
    { left: 0, yAxisW: 85, padR: 23, ylabelX: 18 },
    { left: 600, yAxisW: 91, padR: 17, ylabelX: 23 }
];
const rowTops = [0, 387, 773, 1160];
const C = {
    tot: '#000000', lep: '#a95cf0', had: '#8fb300', host: '#e0484c', nu: '#0f2e12',
    lepBand: 'rgba(170,110,245,0.15)', hadBand: 'rgba(185,205,80,0.24)', nuBand: 'rgba(80,115,85,0.3)',
    senEdge: '#a3cbc4', pts: '#808080', faint: 'rgba(150,150,150,0.35)', ul: 'rgba(165,165,165,0.75)'
};

Chart.defaults.font.family = '"DejaVu Sans", sans-serif';

const toXY = p => p ? { x: 10 ** p[0], y: 10 ** p[1] } : { x: null, y: null };
const expText = v => String(Math.round(Math.log10(v))).replace('-', '−');

function makeHatch() {
    const c = document.createElement('canvas');
    c.width = 35; c.height = 35;
    const g = c.getContext('2d');
    g.fillStyle = '#e0f0e0';
    g.fillRect(0, 0, 35, 35);
    g.strokeStyle = '#c8dee6';
    g.lineWidth = 1;
    g.beginPath();
    g.moveTo(0, 0); g.lineTo(35, 35);
    g.moveTo(35, 0); g.lineTo(0, 35);
    g.stroke();
    return g.createPattern(c, 'repeat');
}

function fontStr(size, it) { return (it ? 'italic ' : '') + size + 'px "DejaVu Sans"'; }

// draws a run of text segments with optional sub/superscripts; y is the baseline
function drawRich(ctx, segs, x, y, size, align, supRaise) {
    const parts = [];
    let w = 0;
    const raise = supRaise || 0.42;
    const meas = (t, s, it) => { ctx.font = fontStr(s, it); return ctx.measureText(t).width; };
    segs.forEach(s => {
        parts.push({ t: s.t, s: size, it: s.it, dx: w, dy: 0 });
        w += meas(s.t, size, s.it);
        let extra = 0;
        if (s.sup) {
            parts.push({ t: s.sup, s: size * 0.7, it: s.supIt, dx: w, dy: -size * raise });
            extra = meas(s.sup, size * 0.7, s.supIt);
        }
        if (s.sub) {
            parts.push({ t: s.sub, s: size * 0.7, it: s.subIt, dx: w, dy: size * 0.24 });
            extra = Math.max(extra, meas(s.sub, size * 0.7, s.subIt));
        }
        w += extra;
    });
    const x0 = align === 'center' ? x - w / 2 : align === 'right' ? x - w : x;
    ctx.textAlign = 'left';
    ctx.textBaseline = 'alphabetic';
    parts.forEach(p => { ctx.font = fontStr(p.s, p.it); ctx.fillText(p.t, x0 + p.dx, y + p.dy); });
    return w;
}

const sedDecor = {
    id: 'sedDecor',
    beforeDatasetDraw(chart, args) {
        const ds = chart.data.datasets[args.index];
        if (!ds.errs) return;
        const { ctx, chartArea: a } = chart;
        const xs = chart.scales.x, ys = chart.scales.y;
        ctx.save();
        ctx.beginPath();
        ctx.rect(a.left, a.top, a.width, a.height);
        ctx.clip();
        ctx.strokeStyle = C.pts;
        ctx.lineWidth = 1.6;
        ctx.beginPath();
        ds.errs.forEach(e => {
            if (e.length < 4) return;
            const x = xs.getPixelForValue(10 ** e[0]);
            ctx.moveTo(x, ys.getPixelForValue(10 ** e[2]));
            ctx.lineTo(x, ys.getPixelForValue(10 ** e[3]));
        });
        ctx.stroke();
        ctx.restore();
    },
    afterDraw(chart, args, o) {
        const { ctx, chartArea: a } = chart;
        const xs = chart.scales.x, ys = chart.scales.y;
        ctx.save();
        ctx.fillStyle = '#000';
        ctx.strokeStyle = '#000';

        // frame and minor ticks
        ctx.lineWidth = 1;
        ctx.strokeRect(Math.round(a.left) + 0.5, Math.round(a.top) + 0.5, Math.round(a.width) - 1, Math.round(a.height) - 1);
        ctx.lineWidth = 0.8;
        ctx.beginPath();
        for (let e = -15; e < -10; e++) {
            for (let m = 2; m <= 9; m++) {
                const y = ys.getPixelForValue(m * 10 ** e);
                ctx.moveTo(a.left - 3, y);
                ctx.lineTo(a.left, y);
            }
        }
        ctx.stroke();

        // tick labels at the scale's own tick positions
        xs.ticks.forEach(t => {
            drawRich(ctx, [{ t: '10', sup: expText(t.value) }], xs.getPixelForValue(t.value), a.bottom + 22, 15, 'center', 0.36);
        });
        ys.ticks.forEach(t => {
            drawRich(ctx, [{ t: '10', sup: expText(t.value) }], a.left - 7.5, ys.getPixelForValue(t.value) + 5.3, 15, 'right', 0.36);
        });

        // secondary energy axis on top
        ctx.lineWidth = 1;
        ctx.beginPath();
        energyExp.forEach(e => {
            const x = Math.round(xs.getPixelForValue(10 ** e)) + 0.5;
            ctx.moveTo(x, a.top);
            ctx.lineTo(x, a.top - 5);
        });
        ctx.stroke();
        ctx.font = fontStr(13);
        ctx.textAlign = 'center';
        ctx.textBaseline = 'alphabetic';
        energyExp.forEach((e, i) => ctx.fillText(energyLabels[i], xs.getPixelForValue(10 ** e), a.top + 20));

        // title and axis labels
        ctx.font = fontStr(15.5);
        ctx.fillText(o.title, (a.left + a.right) / 2, a.top - 8);
        drawRich(ctx, [{ t: 'ν', it: true }, { t: ' [Hz]' }], (a.left + a.right) / 2, a.bottom + 42, 14.5, 'center');
        ctx.save();
        ctx.translate(o.ylabelX, (a.top + a.bottom) / 2);
        ctx.rotate(-Math.PI / 2);
        drawRich(ctx, [{ t: 'ν', it: true }, { t: 'F', it: true, sub: 'ν', subIt: true }, { t: ' [erg cm', sup: '−2' }, { t: ' s', sup: '−1' }, { t: ']' }], 0, 5, 14.5, 'center');
        ctx.restore();

        // proton luminosity box
        const bw = 116, bh = 31;
        const bx = a.right - 8.5 - bw, by = a.bottom - 2.5 - bh;
        ctx.fillStyle = 'rgba(255,255,255,0.9)';
        ctx.fillRect(bx, by, bw, bh);
        ctx.strokeStyle = '#a0a0a0';
        ctx.lineWidth = 1.3;
        ctx.strokeRect(bx, by, bw, bh);
        ctx.fillStyle = '#000';
        drawRich(ctx, [{ t: 'L', it: true, sub: 'p', sup: 'phys' }, { t: ' = ' + o.lp + ' ' }, { t: 'L', it: true, sub: 'Edd' }], bx + bw / 2, by + 19.5, 14, 'center');
        ctx.restore();
    }
};

const hatch = makeHatch();

function lineDs(pts, color, width, order) {
    return { data: pts.map(toXY), borderColor: color, borderWidth: width, pointRadius: 0, fill: false, cubicInterpolationMode: 'monotone', order: order };
}
function bandDs(up, lo, color, order) {
    return [
        { data: up.map(toXY), borderWidth: 0, borderColor: 'transparent', backgroundColor: color, pointRadius: 0, fill: '+1', cubicInterpolationMode: 'monotone', order: order },
        { data: lo.map(toXY), borderWidth: 0, borderColor: 'transparent', pointRadius: 0, fill: false, cubicInterpolationMode: 'monotone', order: order }
    ];
}
function scatterDs(pts, color, style, radius, order, errs) {
    const ds = { data: pts.map(toXY), showLine: false, pointRadius: radius, pointBackgroundColor: color, pointBorderWidth: 0, pointStyle: style, order: order };
    if (style === 'triangle') ds.pointRotation = 180;
    if (errs) ds.errs = pts;
    return ds;
}

panels.forEach((p, i) => {
    const col = cols[i % 2];
    const canvas = document.createElement('canvas');
    canvas.width = 600;
    canvas.height = 387;
    canvas.style.left = col.left + 'px';
    canvas.style.top = rowTops[Math.floor(i / 2)] + 'px';
    document.body.appendChild(canvas);

    const datasets = [];
    datasets.push(
        { data: p.senUp.map(toXY), borderColor: C.senEdge, borderWidth: 2.5, backgroundColor: hatch, pointRadius: 0, fill: '+1', tension: 0, order: 30 },
        { data: p.senLo.map(toXY), borderColor: C.senEdge, borderWidth: 2.5, pointRadius: 0, fill: false, tension: 0, order: 30 }
    );
    p.lepBands.forEach(b => datasets.push(...bandDs(b[0], b[1], C.lepBand, 25)));
    datasets.push(...bandDs(p.hadUp, p.hadLo, C.hadBand, 24));
    datasets.push(...bandDs(p.nuUp, p.nuLo, C.nuBand, 23));
    datasets.push(scatterDs(p.faint, C.faint, 'circle', 3, 16));
    datasets.push(scatterDs(p.ul, C.ul, 'triangle', 4.5, 15));
    datasets.push(scatterDs(p.pts, C.pts, 'circle', 3.4, 14, true));
    datasets.push(lineDs(p.lep, C.lep, 1.3, 6));
    datasets.push(lineDs(p.tot, C.tot, 2.2, 5));
    datasets.push(lineDs(p.had, C.had, 1.5, 4));
    datasets.push(lineDs(p.host, C.host, 2, 3));
    datasets.push(lineDs(p.nu, C.nu, 1.5, 2));

    new Chart(canvas, {
        type: 'line',
        data: { datasets },
        plugins: [sedDecor],
        options: {
            responsive: false,
            animation: false,
            events: [],
            layout: { padding: { left: 0, right: col.padR, top: 27, bottom: 0 } },
            plugins: {
                legend: { display: false },
                tooltip: { enabled: false },
                sedDecor: { title: titles[i], lp: lpValues[i], ylabelX: col.ylabelX }
            },
            scales: {
                x: {
                    type: 'logarithmic', min: 1e9, max: 1e33,
                    afterBuildTicks: s => { s.ticks = xTickExp.map(e => ({ value: 10 ** e })); },
                    afterFit: s => { s.height = 62; },
                    ticks: { display: false },
                    grid: { drawOnChartArea: false, tickLength: 5, tickColor: '#000', color: '#000' },
                    border: { display: true, color: '#000', width: 1 }
                },
                y: {
                    type: 'logarithmic', min: 1e-15, max: 1e-10,
                    afterBuildTicks: s => { s.ticks = yTickExp.map(e => ({ value: 10 ** e })); },
                    afterFit: s => { s.width = col.yAxisW; },
                    ticks: { display: false },
                    grid: { drawOnChartArea: false, tickLength: 5, tickColor: '#000', color: '#000' },
                    border: { display: true, color: '#000', width: 1 }
                }
            }
        }
    });
});

// shared legend
const legendColors = [C.tot, C.lep, C.had, C.host, C.nu];
const legendWidths = [3, 2, 2.5, 2.5, 2];
const legendCenters = [16, 43, 70, 97, 126];
const legend = document.getElementById('legend');
legendLabels.forEach((lab, i) => {
    const row = document.createElement('div');
    row.className = 'row';
    row.style.top = (legendCenters[i] - 13) + 'px';
    row.innerHTML = `<div class="swatch" style="height:${legendWidths[i]}px;background:${legendColors[i]}"></div><span>${lab}</span>`;
    legend.appendChild(row);
});
</script>
</body>
</html>
